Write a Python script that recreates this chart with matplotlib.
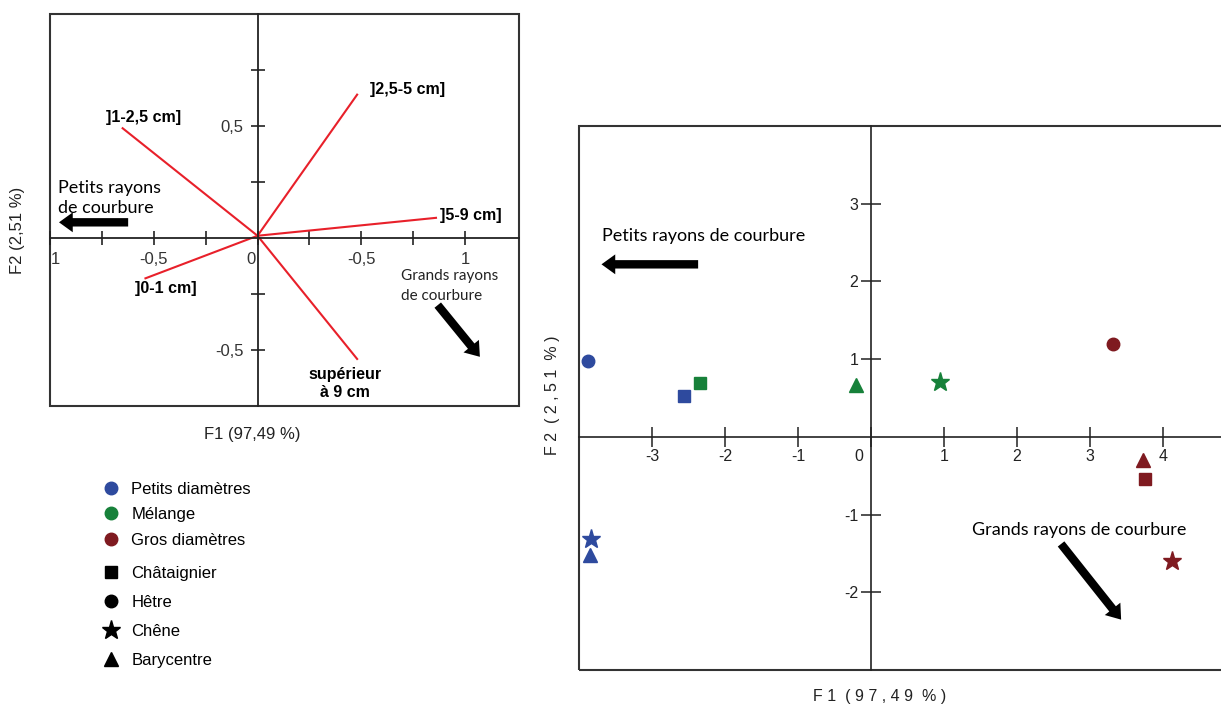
import matplotlib
matplotlib.use('Agg')
import matplotlib.pyplot as plt
import matplotlib.transforms as mtrans
from matplotlib.lines import Line2D
from matplotlib.patches import Rectangle

plt.rcParams['font.family'] = ['Liberation Sans', 'DejaVu Sans']

# --- cercle des corrélations (F1 x F2)
classes = [']1-2,5 cm]', ']2,5-5 cm]', ']5-9 cm]', ']0-1 cm]', 'supérieur\nà 9 cm']
load_f1 = [-0.65, 0.48, 0.86, -0.54, 0.48]
load_f2 = [0.49, 0.64, 0.09, -0.18, -0.54]

# --- individus
groupes = ['Petits diamètres', 'Mélange', 'Gros diamètres']
couleurs = ['#2e4a9e', '#17813a', '#7f1a20']
essences = ['Châtaignier', 'Hêtre', 'Chêne', 'Barycentre']
marqueurs = ['s', 'o', '*', '^']
tailles = [9, 9, 14, 10]

pts_groupe = [0, 0, 0, 0, 1, 1, 1, 2, 2, 2, 2]
pts_essence = [1, 0, 2, 3, 0, 3, 2, 1, 3, 0, 2]
pts_f1 = [-3.87, -2.56, -3.83, -3.85, -2.34, -0.20, 0.94, 3.32, 3.73, 3.76, 4.12]
pts_f2 = [0.97, 0.53, -1.31, -1.52, 0.69, 0.67, 0.70, 1.20, -0.30, -0.54, -1.60]

myriad = 'Lato'
fleche = 'simple,head_width=1.3,head_length=0.9,tail_width=0.55'

fig = plt.figure(figsize=(12.21, 7.06), dpi=100)


def axes_centres(ax, lw):
    for s in ['top', 'right']:
        ax.spines[s].set_visible(False)
    ax.spines['left'].set_position('zero')
    ax.spines['bottom'].set_position('zero')
    for s in ['left', 'bottom']:
        ax.spines[s].set_linewidth(lw)
        ax.spines[s].set_color('#222222')


def decaler(label, dx):
    # décale un label de tick horizontalement (en pixels)
    label.set_transform(label.get_transform() +
                        mtrans.ScaledTranslation(dx / 100, 0, fig.dpi_scale_trans))


# ---------------- panneau gauche ----------------
ax1 = fig.add_axes([50 / 1221, 1 - 406 / 706, 469 / 1221, 392 / 706])
ax1.set_xlim(-1.0, 1.26)
ax1.set_ylim(-0.75, 1.0)
axes_centres(ax1, 1.3)
ax1.add_patch(Rectangle((0, 0), 1, 1, transform=ax1.transAxes, fill=False,
                        lw=1.5, edgecolor='#333333', clip_on=False))

ax1.set_xticks([-1, -0.75, -0.5, -0.25, 0, 0.25, 0.5, 0.75, 1])
ax1.set_xticklabels(['1', '', '-0,5', '', '0', '', '-0,5', '', '1'])
ax1.set_yticks([-0.5, -0.25, 0.25, 0.5, 0.75])
ax1.set_yticklabels(['-0,5', '', '', '0,5', ''])
ax1.tick_params(axis='both', direction='inout', length=10, width=1.2,
                colors='#222222', labelsize=12, labelcolor='#333333')
ax1.tick_params(axis='x', pad=5)
ax1.tick_params(axis='y', pad=5)
xl = ax1.get_xticklabels()
decaler(xl[0], 5)
decaler(xl[4], -7)

for x, y in zip(load_f1, load_f2):
    ax1.plot([0, x], [0.01, y], color='#e8202a', lw=1.5)

lab_pos = [(-0.73, 0.54, 'left'), (0.54, 0.665, 'left'), (0.88, 0.10, 'left'),
           (-0.59, -0.225, 'left'), (0.42, -0.65, 'center')]
for lab, (x, y, ha) in zip(classes, lab_pos):
    ax1.text(x, y, lab, ha=ha, va='center', fontsize=11.5, fontweight='bold',
             linespacing=1.25)

ax1.text(-0.96, 0.18, 'Petits rayons\nde courbure', fontsize=13, family=myriad,
         ha='left', va='center', linespacing=1.3)
ax1.annotate('', xy=(-0.97, 0.07), xytext=(-0.61, 0.07),
             arrowprops=dict(arrowstyle=fleche, mutation_scale=11, color='black', lw=0))
ax1.text(0.69, -0.215, 'Grands rayons\nde courbure', fontsize=11, family=myriad,
         ha='left', va='center', linespacing=1.5, color='#222222')
ax1.annotate('', xy=(1.08, -0.54), xytext=(0.86, -0.29),
             arrowprops=dict(arrowstyle=fleche, mutation_scale=11, color='black', lw=0))

fig.text(252 / 1221, 1 - 434 / 706, 'F1 (97,49 %)', ha='center', va='center',
         fontsize=12, color='#222222')
fig.text(18 / 1221, 1 - 230 / 706, 'F2 (2,51 %)', ha='center', va='center',
         fontsize=12, rotation=90, color='#222222')

# ---------------- panneau droit ----------------
ax2 = fig.add_axes([579 / 1221, 1 - 670 / 706, 657 / 1221, 544 / 706])
ax2.set_xlim(-4.0, 5.0)
ax2.set_ylim(-3.0, 4.0)
axes_centres(ax2, 1.2)
ax2.add_patch(Rectangle((0, 0), 1, 1, transform=ax2.transAxes, fill=False,
                        lw=1.5, edgecolor='#333333', clip_on=False))

ax2.set_xticks([-3, -2, -1, 0, 1, 2, 3, 4])
ax2.set_xticklabels(['-3', '-2', '-1', '0', '1', '2', '3', '4'])
ax2.set_yticks([-2, -1, 1, 2, 3])
ax2.set_yticklabels(['-2', '-1', '1', '2', '3'])
ax2.tick_params(axis='both', direction='inout', length=14, width=1.1,
                colors='#222222', labelsize=11.5, labelcolor='#222222', pad=2)
decaler(ax2.get_xticklabels()[3], -12)

for g, e, x, y in zip(pts_groupe, pts_essence, pts_f1, pts_f2):
    ax2.plot(x, y, marker=marqueurs[e], ms=tailles[e], color=couleurs[g],
             ls='none', clip_on=False)

ax2.text(-3.69, 2.58, 'Petits rayons de courbure', fontsize=13, family=myriad,
         ha='left', va='center')
ax2.annotate('', xy=(-3.73, 2.22), xytext=(-2.33, 2.22),
             arrowprops=dict(arrowstyle=fleche, mutation_scale=11, color='black', lw=0))
ax2.text(1.39, -1.2, 'Grands rayons de courbure', fontsize=13, family=myriad,
         ha='left', va='center')
ax2.annotate('', xy=(3.45, -2.38), xytext=(2.58, -1.35),
             arrowprops=dict(arrowstyle=fleche, mutation_scale=11, color='black', lw=0))

fig.text(880 / 1221, 1 - 697 / 706, 'F 1  ( 9 7 , 4 9  % )', ha='center', va='center',
         fontsize=11.5, color='#222222')
fig.text(553 / 1221, 1 - 395 / 706, 'F 2  ( 2 , 5 1  % )', ha='center', va='center',
         fontsize=11.5, rotation=90, color='#222222')

# ---------------- légendes ----------------
h_groupes = [Line2D([], [], marker='o', ls='none', ms=9, color=c) for c in couleurs]
h_essences = [Line2D([], [], marker=m, ls='none', ms=s, color='black')
              for m, s in zip(marqueurs, tailles)]
fig.legend(h_groupes, groupes, loc='upper left',
           bbox_to_anchor=(103 / 1221, 1 - 482 / 706), frameon=False,
           fontsize=12, handlelength=1.0, handletextpad=0.7,
           labelspacing=0.62, borderpad=0, borderaxespad=0)
fig.legend(h_essences, essences, loc='upper left',
           bbox_to_anchor=(103 / 1221, 1 - 566 / 706), frameon=False,
           fontsize=12, handlelength=1.0, handletextpad=0.7,
           labelspacing=0.84, borderpad=0, borderaxespad=0)

fig.savefig('out.png', dpi=100)
